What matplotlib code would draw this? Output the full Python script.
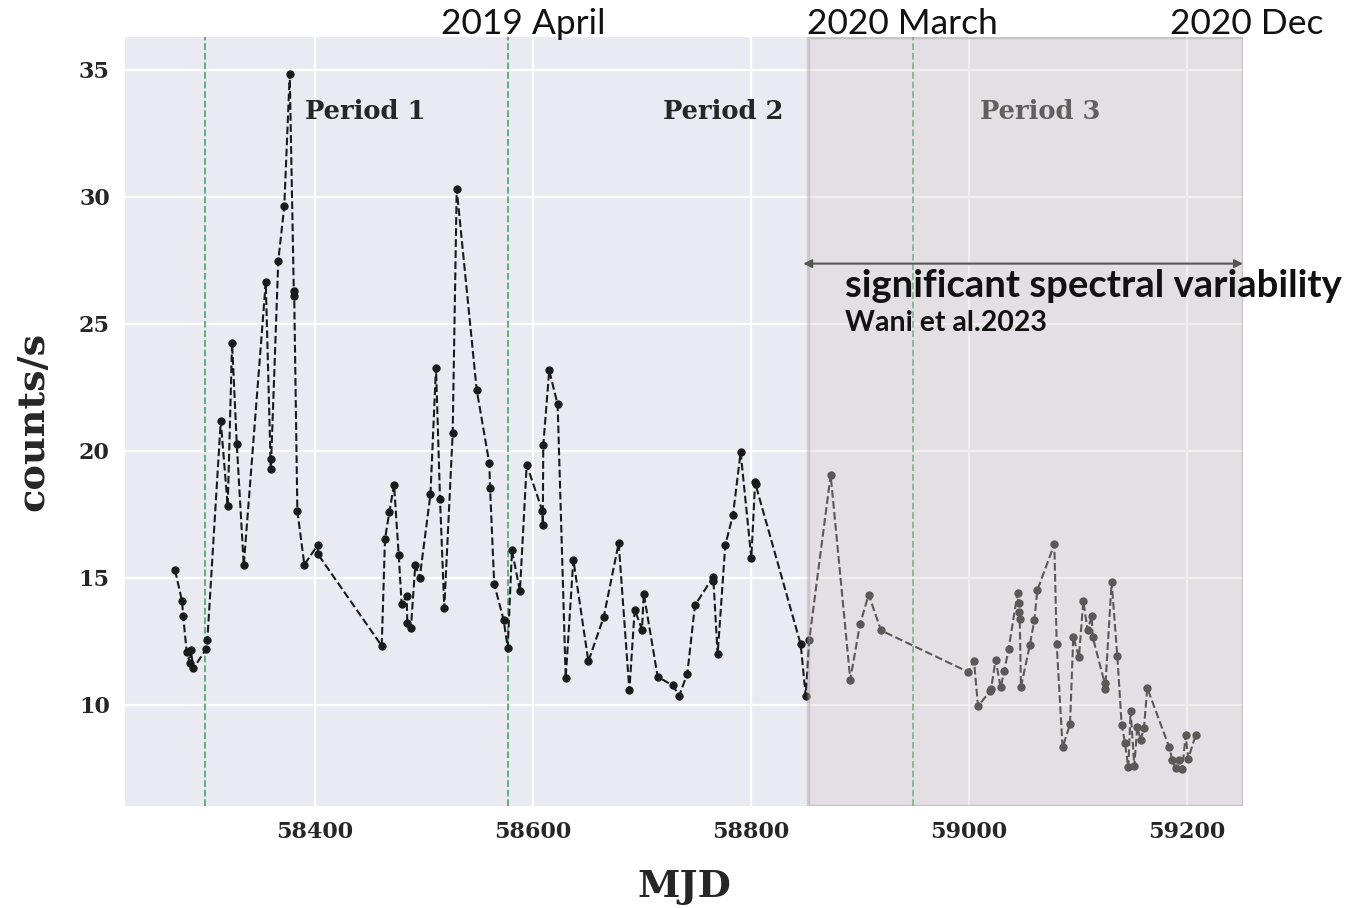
import matplotlib
matplotlib.use("Agg")
import matplotlib.pyplot as plt
import matplotlib.transforms as mtransforms

# light curve: MJD vs count rate
mjd = [
    58271.6, 58278.0, 58279.0, 58282.3, 58285.3, 58286.0, 58288.4, 58300.0,
    58301.2, 58313.5, 58319.9, 58323.9, 58328.2, 58334.6, 58354.8, 58359.4,
    58359.8, 58366.3, 58371.8, 58376.8, 58380.5, 58380.9, 58383.8, 58390.2,
    58402.3, 58402.7, 58461.2, 58464.2, 58468.2, 58472.5, 58476.8, 58479.5,
    58484.1, 58484.7, 58488.0, 58492.0, 58496.0, 58505.9, 58511.0, 58514.7,
    58518.6, 58526.3, 58530.0, 58548.3, 58559.9, 58560.6, 58564.4, 58573.1,
    58576.8, 58580.7, 58588.0, 58594.2, 58608.7, 58609.0, 58609.4, 58614.9,
    58622.6, 58630.0, 58637.0, 58650.8, 58664.9, 58678.6, 58688.4, 58693.3,
    58700.0, 58701.6, 58714.4, 58728.0, 58734.2, 58741.6, 58748.6, 58765.2,
    58765.6, 58769.4, 58776.4, 58783.5, 58790.5, 58800.3, 58803.8, 58804.2,
    58845.6, 58850.2, 58853.5, 58873.1, 58891.1, 58900.0, 58908.0, 58919.3,
    58999.4, 59004.6, 59008.3, 59019.6, 59020.2, 59024.5, 59029.0, 59032.4,
    59036.4, 59044.6, 59045.6, 59046.0, 59046.6, 59047.7, 59055.9, 59060.0,
    59062.7, 59078.3, 59080.5, 59085.9, 59092.7, 59095.7, 59100.9, 59104.9,
    59108.9, 59112.6, 59113.5, 59124.6, 59125.0, 59130.9, 59136.1, 59140.1,
    59143.1, 59146.2, 59148.3, 59151.7, 59154.4, 59157.5, 59160.6, 59163.6,
    59183.8, 59186.6, 59189.6, 59192.4, 59195.7, 59198.8, 59201.2, 59208.0,
]
rate = [
    15.29, 14.07, 13.49, 12.07, 11.63, 12.14, 11.42, 12.18,
    12.53, 21.17, 17.81, 24.24, 20.28, 15.48, 26.64, 19.26,
    19.68, 27.49, 29.63, 34.84, 26.31, 26.10, 17.62, 15.51,
    16.27, 15.92, 12.31, 16.52, 17.58, 18.66, 15.88, 13.94,
    14.26, 13.21, 13.02, 15.51, 14.98, 18.28, 23.27, 18.08,
    13.80, 20.69, 30.31, 22.41, 19.51, 18.54, 14.75, 13.32,
    12.23, 16.07, 14.47, 19.45, 17.62, 17.07, 20.21, 23.16,
    21.82, 11.05, 15.71, 11.70, 13.45, 16.36, 10.56, 13.74,
    12.95, 14.37, 11.09, 10.76, 10.35, 11.22, 13.91, 15.02,
    14.85, 11.98, 16.27, 17.48, 19.94, 15.77, 18.76, 18.67,
    12.37, 10.34, 12.56, 19.04, 10.98, 13.16, 14.33, 12.92,
    11.28, 11.72, 9.94, 10.53, 10.60, 11.77, 10.67, 11.32,
    12.20, 14.39, 13.98, 13.65, 13.35, 10.69, 12.36, 13.32,
    14.50, 16.31, 12.37, 8.31, 9.22, 12.66, 11.87, 14.07,
    12.93, 13.49, 12.66, 10.83, 10.63, 14.83, 11.91, 9.21,
    8.50, 7.52, 9.75, 7.57, 9.12, 8.60, 9.09, 10.65,
    8.31, 7.81, 7.48, 7.83, 7.44, 8.79, 7.87, 8.79,
]

# reference epochs
epoch_lines = [58299, 58577, 58949]
epoch_labels = ["2019 April", "2020 March", "2020 Dec"]
epoch_label_x = [58591, 58939, 59255]

period_names = ["Period 1", "Period 2", "Period 3"]
period_x = [58446, 58775, 59065]
period_y = 33.36

span_start = 58852
xlim = (58225.7, 59251.4)
ylim = (6.0, 36.3)

plt.rcParams["font.family"] = "DejaVu Serif"

fig = plt.figure(figsize=(13.49, 9.08), dpi=100)
ax = fig.add_axes([0.0927, 0.1123, 0.8287, 0.847])
ax.set_facecolor("#EAEAF2")
for sp in ax.spines.values():
    sp.set_visible(False)
ax.grid(True, color="white", linewidth=1.6)
ax.set_axisbelow(True)
ax.tick_params(length=0, pad=11, labelsize=16, labelcolor="#262626")

ax.plot(mjd, rate, "--o", color="#1a1a1a", markersize=5, linewidth=1.5, zorder=3)

for xv in epoch_lines:
    ax.axvline(xv, color="#5aa86e", linestyle="--", linewidth=1.3, zorder=2)

for name, px in zip(period_names, period_x):
    ax.text(px, period_y, name, ha="center", va="center", fontsize=18.5,
            fontweight="bold", color="#262626", zorder=2)

# shaded late-time window, drawn over the data
ax.axvspan(span_start, xlim[1], facecolor="#d6cccc", alpha=0.35,
           edgecolor="#9a9090", linewidth=2.5, zorder=4)

ax.annotate("", xy=(xlim[1], 27.37), xytext=(58848, 27.37),
            arrowprops=dict(arrowstyle="<|-|>", color="#555555", lw=1.5,
                            mutation_scale=12, shrinkA=0, shrinkB=0),
            zorder=5, annotation_clip=False)
ax.text(58886, 26.47, "significant spectral variability", fontsize=27.5,
        family="Lato", fontweight="bold", color="#111111", va="center",
        ha="left", zorder=6, clip_on=False)
ax.text(58886, 25.05, "Wani et al.2023", fontsize=20.5, family="Lato",
        fontweight="bold", color="#111111", va="center", ha="left", zorder=6)

trans = mtransforms.blended_transform_factory(ax.transData, ax.transAxes)
for lab, xv in zip(epoch_labels, epoch_label_x):
    ax.text(xv, 1.017, lab, transform=trans, ha="center", va="center",
            fontsize=25.5, family="Lato", color="#111111", clip_on=False)

ax.set_xlim(*xlim)
ax.set_ylim(*ylim)
ax.set_xticks([58400, 58600, 58800, 59000, 59200])
ax.set_yticks([10, 15, 20, 25, 30, 35])
for lbl in ax.get_xticklabels() + ax.get_yticklabels():
    lbl.set_fontweight("bold")

ax.set_xlabel("MJD", fontsize=27.5, fontweight="bold", color="#262626", labelpad=18)
ax.set_ylabel("counts/s", fontsize=27.5, fontweight="bold", color="#262626", labelpad=20)

fig.savefig("out.png", dpi=100)
